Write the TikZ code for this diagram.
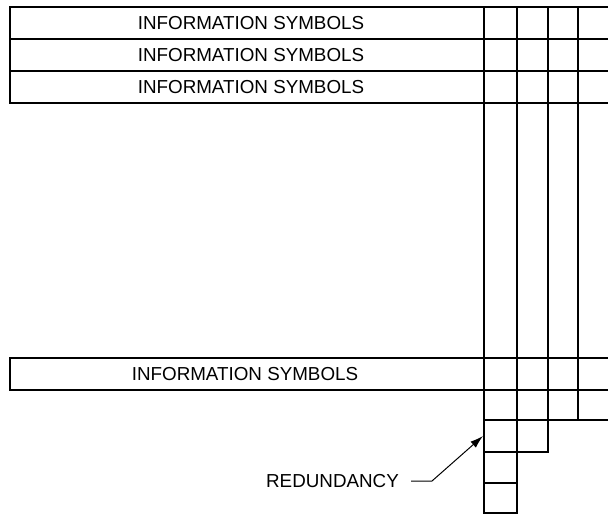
\documentclass[tikz,border=0pt]{standalone}
\usepackage{fontspec}
\setmainfont{Liberation Sans}
\usetikzlibrary{arrows.meta}
\begin{document}
\begin{tikzpicture}[x=1pt,y=-1pt,
  grid/.style={line width=2pt, line cap=rect},
  lbl/.style={inner sep=0pt, font=\fontsize{18.8}{22}\selectfont},
  pointer/.style={line width=1pt, -{Latex[length=13pt,width=8pt]}}]
\useasboundingbox (0,0) rectangle (608,519);
% top three rows
\draw[grid] (610,7) -- (10,7) -- (10,103) -- (610,103);
\draw[grid] (10,39) -- (610,39);
\draw[grid] (10,71) -- (610,71);
% bottom information row
\draw[grid] (610,358) -- (10,358) -- (10,390) -- (610,390);
% column lines
\draw[grid] (484,7) -- (484,513);
\draw[grid] (516.5,7) -- (516.5,513);
\draw[grid] (547.5,7) -- (547.5,452);
\draw[grid] (578,7) -- (578,420);
% lower steps
\draw[grid] (484,420) -- (610,420);
\draw[grid] (484,452) -- (547.5,452);
\draw[grid] (484,483) -- (516.5,483);
\draw[grid] (484,513) -- (516.5,513);
% texts
\node[lbl] (r1) at (251,23) {INFORMATION SYMBOLS};
\node[lbl] (r2) at (251,55) {INFORMATION SYMBOLS};
\node[lbl] (r3) at (251,87) {INFORMATION SYMBOLS};
\node[lbl] (r4) at (245,374) {INFORMATION SYMBOLS};
\node[lbl] (red) at (332.5,481) {REDUNDANCY};
\coordinate (bend) at (432,481);
\coordinate (tip) at (483,436);
\draw[pointer] ([xshift=12pt]red.east) -- (bend) -- (tip);
\end{tikzpicture}
\end{document}
